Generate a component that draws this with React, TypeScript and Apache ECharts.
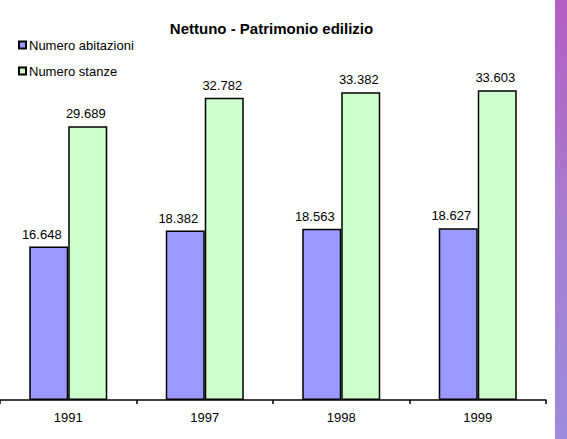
import React, { useEffect, useRef } from "react";
import * as echarts from "echarts";

const categories = ["1991", "1997", "1998", "1999"];
const abitazioni = [16.648, 18.382, 18.563, 18.627];
const stanze = [29.689, 32.782, 33.382, 33.603];
const seriesNames = ["Numero abitazioni", "Numero stanze"];

const fmt = (v: number) => v.toFixed(3);

export default function App() {
  const ref = useRef<HTMLDivElement>(null);
  useEffect(() => {
    document.body.style.margin = "0";
    const chart = echarts.init(ref.current!, null, { renderer: "svg" });
    const font = "'Liberation Sans', Arial, sans-serif";
    const makeLabel = (dx: number) => ({
      show: true,
      position: "top" as const,
      distance: 6,
      offset: [dx, 0],
      color: "#000",
      fontSize: 13,
      fontFamily: font,
      formatter: (p: any) => fmt(p.value),
    });
    chart.setOption({
      animation: false,
      backgroundColor: "#fff",
      title: {
        text: "Nettuno - Patrimonio edilizio",
        left: 271.5,
        textAlign: "center",
        top: 21,
        padding: 0,
        textStyle: { fontSize: 15, fontWeight: "bold", color: "#000", fontFamily: font },
      },
      legend: {
        orient: "vertical",
        left: 18,
        top: 38.5,
        padding: 0,
        itemWidth: 7,
        itemHeight: 7,
        itemGap: 13,
        icon: "rect",
        textStyle: { fontSize: 13, color: "#000", fontFamily: font, padding: [0, 0, 0, -2] },
        data: seriesNames,
      },
      grid: { left: -4.3, right: 21, top: 31.2, bottom: 39, containLabel: false },
      xAxis: {
        type: "category",
        data: categories,
        axisLine: { lineStyle: { color: "#000", width: 1.5 } },
        axisTick: { show: true, length: 4, lineStyle: { color: "#000", width: 1.5 } },
        axisLabel: { color: "#000", fontSize: 13, fontFamily: font, margin: 11 },
      },
      yAxis: { type: "value", min: 0, max: 40, show: false, splitLine: { show: false } },
      series: [
        {
          name: seriesNames[0],
          type: "bar",
          data: abitazioni,
          barWidth: 39,
          barGap: "0%",
          itemStyle: { color: "#9999ff", borderColor: "#000", borderWidth: 1.5 },
          label: makeLabel(-7),
        },
        {
          name: seriesNames[1],
          type: "bar",
          data: stanze,
          barWidth: 39,
          barGap: "0%",
          itemStyle: { color: "#ccffcc", borderColor: "#000", borderWidth: 1.5 },
          label: makeLabel(-2),
        },
      ],
      graphic: [
        {
          type: "rect",
          shape: { x: 555, y: 0, width: 12, height: 439 },
          style: {
            fill: new echarts.graphic.LinearGradient(0, 0, 0, 1, [
              { offset: 0, color: "#b35ec0" },
              { offset: 0.5, color: "#a67dcf" },
              { offset: 1, color: "#9b8cdc" },
            ]),
          },
        },
      ],
    });
    return () => chart.dispose();
  }, []);
  return <div ref={ref} style={{ width: 567, height: 439, position: "absolute", left: 0, top: 0 }} />;
}
